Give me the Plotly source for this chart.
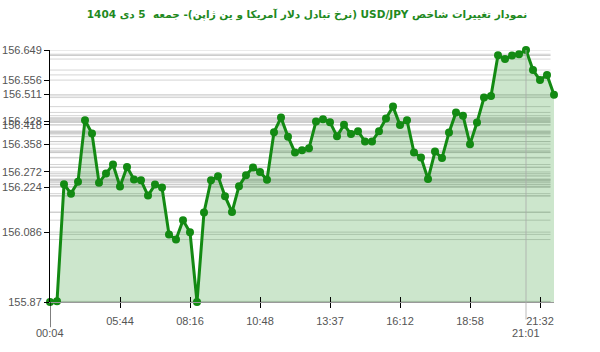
import plotly.graph_objects as go

# ---- data ----
values = [
    155.870, 155.872, 156.234, 156.205, 156.242, 156.432, 156.391, 156.239, 156.267, 156.295,
    156.227, 156.287, 156.249, 156.246, 156.199, 156.233, 156.224, 156.079, 156.063, 156.123,
    156.086, 155.870, 156.147, 156.246, 156.259, 156.197, 156.148, 156.228, 156.262, 156.286,
    156.272, 156.248, 156.395, 156.440, 156.381, 156.332, 156.339, 156.345, 156.428, 156.435,
    156.426, 156.382, 156.418, 156.389, 156.398, 156.366, 156.366, 156.398, 156.437, 156.474,
    156.417, 156.432, 156.332, 156.317, 156.250, 156.335, 156.315, 156.394, 156.456, 156.446,
    156.358, 156.425, 156.502, 156.507, 156.633, 156.621, 156.632, 156.636, 156.649, 156.587,
    156.556, 156.572, 156.511,
]
x_idx = list(range(len(values)))

x_tick_pos = [10, 20, 30, 40, 50, 60, 70]
x_tick_text = ["05:44", "08:16", "10:48", "13:37", "16:12", "18:58", "21:32"]
first_label = "00:04"
max_label = "21:01"
max_idx = 68

y_tick_vals = [155.87, 156.086, 156.224, 156.272, 156.358, 156.418, 156.428, 156.511, 156.556, 156.649]
y_tick_text = ["155.87", "156.086", "156.224", "156.272", "156.358", "156.418", "156.428", "156.511", "156.556", "156.649"]

title_text = "\u202bنمودار تغییرات شاخص USD/JPY (نرخ تبادل دلار آمریکا و ین ژاپن)- جمعه  5 دی 1404\u202c"

LINE = "#138a13"
FONT = "Liberation Sans, Arial, sans-serif"
ymin, ymax = min(values), max(values)

fig = go.Figure()
fig.add_trace(go.Scatter(
    x=x_idx, y=values, mode="lines+markers",
    line=dict(color=LINE, width=3),
    marker=dict(color=LINE, size=8),
    fill="tozeroy", fillcolor="rgba(0,128,0,0.2)",
    cliponaxis=False, hoverinfo="skip", showlegend=False,
))
# dummy trace for overlay axis (crossing ticks)
fig.add_trace(go.Scatter(x=[0], y=[ymin], xaxis="x2", mode="markers",
                         marker=dict(opacity=0), showlegend=False, hoverinfo="skip"))

shapes = []
for v in values:
    shapes.append(dict(type="line", xref="paper", yref="y", x0=0, x1=0.993, y0=v, y1=v,
                       line=dict(color="rgba(195,195,195,0.7)", width=1), layer="below"))
# long tick at first label and marker line at max
shapes.append(dict(type="line", xref="x", yref="paper", x0=0, x1=0, y0=0, y1=-0.1,
                   line=dict(color="black", width=1)))
shapes.append(dict(type="line", xref="x", yref="paper", x0=max_idx, x1=max_idx, y0=1, y1=-0.07,
                   line=dict(color="rgba(170,170,170,0.8)", width=1)))

annotations = [
    dict(x=0, y=-0.123, xref="x", yref="paper", text=first_label, showarrow=False,
         font=dict(family=FONT, size=11, color="#555"), xanchor="center", yanchor="middle"),
    dict(x=max_idx, y=-0.123, xref="x", yref="paper", text=max_label, showarrow=False,
         font=dict(family=FONT, size=11, color="#555"), xanchor="center", yanchor="middle"),
]

fig.update_layout(
    width=600, height=352,
    margin=dict(l=50, r=46, t=50, b=50, autoexpand=False),
    paper_bgcolor="white", plot_bgcolor="white",
    title=dict(text=title_text, x=0.51, xref="paper", y=0.96, yanchor="middle",
               xanchor="center", font=dict(family="DejaVu Sans", size=10.5, color="#1f8a1f", weight="bold")),
    xaxis=dict(range=[0, 72], tickvals=x_tick_pos, ticktext=x_tick_text, ticks="outside",
               ticklen=5, tickcolor="black", showline=True, linecolor="#999", linewidth=1,
               showgrid=False, zeroline=False, ticklabelstandoff=4, automargin=False,
               tickfont=dict(family=FONT, size=11, color="#555")),
    xaxis2=dict(range=[0, 72], overlaying="x", side="bottom", tickvals=x_tick_pos,
                showticklabels=False, ticks="inside", ticklen=5, tickcolor="black",
                showgrid=False, zeroline=False, showline=False, automargin=False),
    yaxis=dict(range=[ymin, ymax], tickvals=y_tick_vals, ticktext=y_tick_text,
               ticks="outside", ticklen=5, tickcolor="black", showline=True,
               linecolor="black", linewidth=1, showgrid=False, zeroline=False,
               automargin=False,
               tickfont=dict(family=FONT, size=11, color="#555")),
    shapes=shapes, annotations=annotations,
)

fig.write_html("out.html")
